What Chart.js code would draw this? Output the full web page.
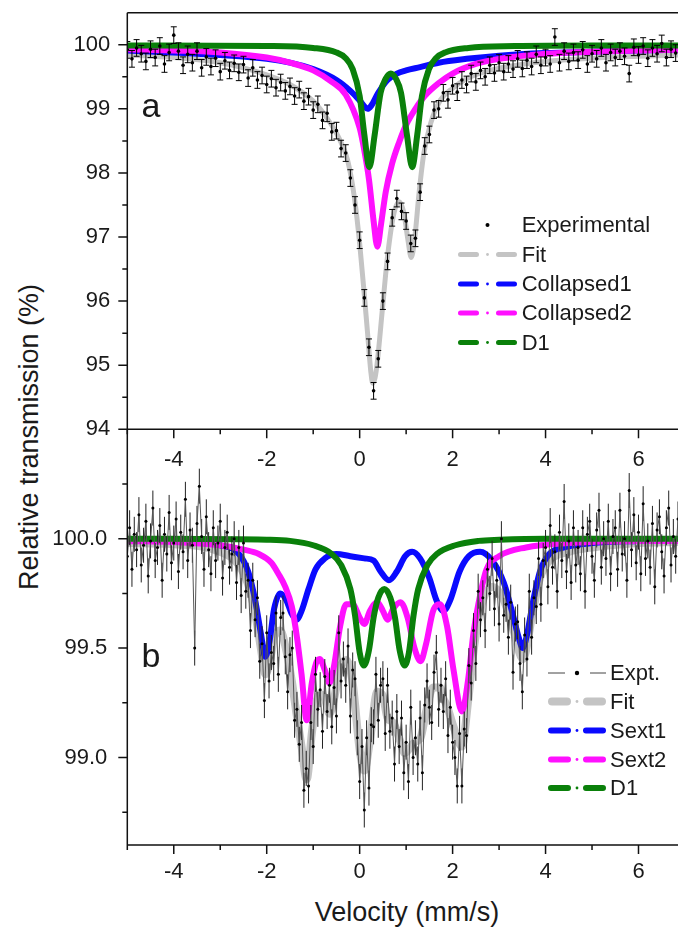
<!DOCTYPE html>
<html>
<head>
<meta charset="utf-8">
<script src="https://cdn.jsdelivr.net/npm/chart.js@4.4.1/dist/chart.umd.min.js"></script>
<style>
html, body { margin: 0; padding: 0; background: #fff; overflow: hidden; }
#wrap { position: relative; width: 682px; height: 930px; font-family: "Liberation Sans", Arial, sans-serif; color: #1a1a1a; }
#cvA { position: absolute; left: 0; top: 0; z-index: 2; }
#cvB { position: absolute; left: 0; top: 420px; z-index: 1; }
.ytitle { position: absolute; left: 29px; top: 437px; transform: translate(-50%, -50%) rotate(-90deg); font-size: 27px; white-space: nowrap; }
.xtitle { position: absolute; left: 407px; top: 912px; transform: translate(-50%, -50%); font-size: 27px; white-space: nowrap; }
</style>
</head>
<body>
<div id="wrap">
  <canvas id="cvA" width="682" height="480"></canvas>
  <canvas id="cvB" width="682" height="510"></canvas>
  <div class="ytitle">Relative transmission (%)</div>
  <div class="xtitle">Velocity (mm/s)</div>
</div>
<script>
// ---- Spectrum a ----
// measured channels: start velocity and step (mm/s)
const velStartA = -5, velStepA = 0.1;
const exptA = [
  99.92, 99.78, 99.95, 99.86, 99.74, 99.93, 99.8, 99.98, 99.7, 99.88,
  100.15, 99.9, 99.68, 99.85, 99.72, 99.9, 99.64, 99.81, 99.66, 99.79,
  99.58, 99.75, 99.6, 99.71, 99.57, 99.69, 99.48, 99.64, 99.45, 99.52,
  99.38, 99.47, 99.33, 99.41, 99.28, 99.35, 99.2, 99.3, 99.12, 99.19,
  98.98, 99.07, 98.82, 98.93, 98.64, 98.66, 98.38, 98.31, 97.92, 97.5,
  96.95, 96.05, 95.28, 94.6, 95.1, 96.0, 96.62, 97.3, 97.6, 97.4,
  97.25, 96.9, 96.98, 97.7, 98.42, 98.6, 98.98, 99.0, 99.25, 99.14,
  99.36, 99.26, 99.45, 99.38, 99.55, 99.42, 99.6, 99.5, 99.68, 99.56,
  99.72, 99.58, 99.7, 99.62, 99.78, 99.63, 99.76, 99.66, 99.85, 99.68,
  99.8, 99.7, 100.12, 99.72, 99.9, 99.74, 99.88, 99.76, 99.92, 99.7,
  99.86, 99.78, 99.95, 99.72, 99.88, 99.8, 99.9, 99.82, 99.55, 99.96,
  99.84, 99.98, 99.79, 99.95, 99.86, 100.02, 99.8, 99.93, 99.87
];
const errA = 0.13;

const fitVelA = [-5, -4, -3, -2.5, -2, -1.5, -1, -0.7, -0.45, -0.26, -0.11, 0, 0.1, 0.17, 0.24, 0.28, 0.33, 0.38, 0.49, 0.6,
  0.74, 0.85, 0.95, 1.04, 1.11, 1.18, 1.28, 1.38, 1.53, 1.74, 2, 2.3, 2.7, 3.2, 4, 5, 6, 6.85];
const fitA = [99.84, 99.8, 99.72, 99.64, 99.53, 99.38, 99.12, 98.85, 98.55, 98.2, 97.6, 96.9, 96.1, 95.5, 94.9, 94.72, 94.8, 95.05, 95.88, 96.7,
  97.38, 97.55, 97.38, 96.95, 96.68, 96.95, 97.7, 98.3, 98.78, 99.14, 99.32, 99.47, 99.58, 99.66, 99.74, 99.79, 99.82, 99.84];

const c1VelA = [-5, -4, -3, -2, -1.5, -1, -0.5, -0.2, 0, 0.1, 0.17, 0.25, 0.4, 0.6, 0.8, 1, 1.3, 1.7, 2.3, 3, 4, 5, 6, 6.85];
const collapsed1A = [99.91, 99.88, 99.84, 99.78, 99.72, 99.62, 99.45, 99.28, 99.13, 99.04, 99.0, 99.05, 99.25, 99.45, 99.55, 99.6, 99.65, 99.72, 99.78, 99.83, 99.87, 99.89, 99.91, 99.92];

const c2VelA = [-5, -4, -3, -2, -1.5, -1, -0.6, -0.3, 0, 0.1, 0.2, 0.3, 0.38, 0.46, 0.56, 0.7, 0.85, 1, 1.2, 1.4, 1.7, 2, 2.5, 3, 4, 5, 6, 6.85];
const collapsed2A = [99.93, 99.91, 99.88, 99.8, 99.72, 99.6, 99.42, 99.22, 98.7, 98.35, 97.9, 97.25, 96.85, 97.2, 97.7, 98.15, 98.48, 98.75, 99.0, 99.2, 99.4, 99.55, 99.7, 99.78, 99.86, 99.89, 99.91, 99.92];

const d1VelA = [-5, -2, -1, -0.5, -0.3, -0.15, 0, 0.1, 0.21, 0.32, 0.45, 0.56, 0.67, 0.78, 0.89, 1.02, 1.13, 1.24, 1.34, 1.49, 1.64, 1.84, 2.34, 3.34, 5, 6.85];
const d1A = [99.99, 99.98, 99.95, 99.88, 99.79, 99.62, 99.2, 98.6, 98.09, 98.58, 99.25, 99.47, 99.55, 99.47, 99.25, 98.58, 98.09, 98.6, 99.2, 99.62, 99.79, 99.88, 99.95, 99.98, 99.99, 99.99];

// ---- Spectrum b ----
const velStartB = -5, velStepB = 0.05;
const exptB = [
  99.92, 100.05, 99.86, 100.02, 99.95, 100.11, 99.88, 99.97, 100.08, 99.83,
  99.99, 100.14, 99.9, 99.96, 100.06, 99.81, 100.02, 99.93, 100.12, 99.89,
  99.98, 100.09, 99.85, 100.03, 99.94, 100.18, 99.9, 100.04, 99.97, 99.5,
  100.07, 100.24, 100.01, 99.86, 100.1, 99.95, 99.84, 100.05, 99.9, 99.98,
  100.08, 99.82, 99.96, 100.03, 99.87, 99.93, 100.0, 99.8, 99.96, 99.74,
  99.98, 99.76, 99.81, 99.58, 99.81, 99.63, 99.73, 99.44, 99.52, 99.26,
  99.57, 99.35, 99.48, 99.43, 99.66, 99.38, 99.64, 99.66, 99.46, 99.3,
  99.47, 99.5, 99.17, 99.22, 99.06, 99.16, 98.85, 98.95, 98.87, 99.16,
  99.05, 99.38, 99.22, 99.31, 99.12, 99.37, 99.21, 99.33, 99.14, 99.32,
  99.19, 99.57, 99.35, 99.45, 99.33, 99.51, 99.19, 99.4, 99.36, 99.09,
  98.89, 99.05, 98.76, 99.09, 98.86, 99.15, 99.14, 99.38, 99.17, 99.33,
  99.36, 99.11, 99.33, 99.12, 99.18, 98.97, 99.21, 99.05, 99.18, 98.93,
  99.07, 98.89, 99.23, 99.0, 99.09, 98.97, 99.18, 98.93, 99.24, 99.35,
  99.23, 99.16, 99.39, 99.48, 99.22, 99.33, 99.21, 99.36, 99.1, 99.23,
  99.07, 99.0, 98.87, 99.11, 98.87, 99.13, 99.1, 99.42, 99.34, 99.58,
  99.43, 99.76, 99.63, 99.73, 99.58, 99.86, 99.75, 99.91, 99.68, 99.81,
  99.61, 100.0, 99.65, 99.7, 99.55, 99.71, 99.39, 99.61, 99.62, 99.43,
  99.3, 99.56, 99.45, 99.76, 99.55, 99.73, 99.69, 99.91, 99.7, 99.9,
  99.96, 99.78, 100.06, 99.87, 99.94, 99.76, 100.03, 99.9, 100.17, 99.85,
  99.99, 99.8, 100.05, 99.88, 99.96, 99.84, 100.05, 99.76, 100.02, 100.08,
  99.92, 99.81, 100.04, 100.13, 99.87, 100.0, 99.91, 100.08, 99.84, 100.01,
  100.05, 99.86, 100.13, 99.93, 100.0, 99.81, 100.22, 99.95, 100.11, 99.89,
  100.03, 99.84, 100.16, 99.91, 99.99, 99.87, 100.07, 99.78, 100.04, 100.1,
  99.94, 99.83, 100.05, 100.14, 99.88, 100.01, 99.92, 100.09
];
const errB = 0.08;

const fitVelB = [-5, -4, -3, -2.6, -2.4, -2.25, -2.12, -2.03, -1.94, -1.84, -1.71, -1.58, -1.46, -1.36, -1.25, -1.14, -1.03, -0.94, -0.86, -0.75,
  -0.65, -0.55, -0.42, -0.29, -0.15, 0, 0.1, 0.22, 0.38, 0.5, 0.6, 0.72, 0.88, 0.97, 1.03, 1.18, 1.31, 1.43, 1.58, 1.73,
  1.8, 1.88, 2.02, 2.2, 2.33, 2.45, 2.6, 2.85, 3.1, 3.3, 3.51, 3.72, 3.88, 4.08, 4.5, 5, 6, 6.85];
const fitB = [99.98, 99.975, 99.94, 99.88, 99.79, 99.66, 99.49, 99.38, 99.43, 99.55, 99.58, 99.49, 99.35, 99.2, 99.05, 98.9, 99.11, 99.245, 99.29, 99.27,
  99.2, 99.27, 99.41, 99.445, 99.34, 99.035, 98.94, 99.075, 99.3, 99.28, 99.18, 99.16, 99.07, 99.02, 99.03, 99.07, 99.09, 99.21, 99.32, 99.32,
  99.27, 99.235, 99.14, 99.05, 99.25, 99.485, 99.68, 99.78, 99.72, 99.59, 99.45, 99.66, 99.82, 99.9, 99.94, 99.96, 99.98, 99.985];

const s1VelB = [-5, -4, -3, -2.6, -2.4, -2.25, -2.12, -2.03, -1.94, -1.84, -1.71, -1.58, -1.47, -1.36, -1.25, -1.1, -0.95, -0.75, -0.5, -0.2,
  0.1, 0.3, 0.45, 0.63, 0.8, 0.98, 1.13, 1.3, 1.5, 1.65, 1.8, 1.95, 2.15, 2.35, 2.59, 2.85, 3.1, 3.3, 3.42, 3.51,
  3.6, 3.72, 3.88, 4.08, 4.4, 5, 6, 6.85];
const sext1B = [99.995, 99.99, 99.97, 99.93, 99.85, 99.72, 99.56, 99.46, 99.53, 99.68, 99.75, 99.72, 99.66, 99.63, 99.67, 99.77, 99.86, 99.91, 99.93, 99.92,
  99.91, 99.9, 99.85, 99.81, 99.85, 99.92, 99.94, 99.91, 99.82, 99.72, 99.67, 99.72, 99.85, 99.92, 99.94, 99.9, 99.8, 99.65, 99.55, 99.5,
  99.56, 99.7, 99.85, 99.93, 99.96, 99.98, 99.99, 99.995];

const s2VelB = [-5, -4, -3, -2.5, -2.17, -1.9, -1.75, -1.6, -1.46, -1.35, -1.25, -1.14, -1.03, -0.94, -0.86, -0.75, -0.65, -0.55, -0.42, -0.29,
  -0.15, 0, 0.1, 0.22, 0.38, 0.5, 0.6, 0.72, 0.88, 1.03, 1.18, 1.31, 1.43, 1.58, 1.73, 1.88, 2.02, 2.2, 2.33, 2.45,
  2.6, 2.73, 3, 3.58, 4.5, 6, 6.85];
const sext2B = [99.99, 99.985, 99.97, 99.95, 99.93, 99.89, 99.84, 99.78, 99.69, 99.55, 99.38, 99.17, 99.34, 99.43, 99.45, 99.4, 99.34, 99.42, 99.6, 99.7,
  99.7, 99.64, 99.61, 99.67, 99.71, 99.67, 99.63, 99.68, 99.71, 99.64, 99.5, 99.44, 99.52, 99.67, 99.7, 99.6, 99.4, 99.21, 99.35, 99.57,
  99.75, 99.86, 99.92, 99.96, 99.98, 99.99, 99.99];

const d1VelB = [-5, -2, -1.5, -1, -0.6, -0.4, -0.2, -0.1, 0, 0.09, 0.2, 0.3, 0.4, 0.53, 0.66, 0.76, 0.86, 0.97, 1.06, 1.16,
  1.26, 1.46, 1.66, 2.06, 2.56, 3, 4, 6.85];
const d1B = [100, 99.995, 99.99, 99.97, 99.93, 99.88, 99.77, 99.65, 99.48, 99.42, 99.49, 99.64, 99.73, 99.77, 99.73, 99.64, 99.49, 99.42, 99.48, 99.65,
  99.77, 99.88, 99.93, 99.97, 99.99, 99.995, 100, 100];

const legendA = ['Experimental', 'Fit', 'Collapsed1', 'Collapsed2', 'D1'];
const legendB = ['Expt.', 'Fit', 'Sext1', 'Sext2', 'D1'];

// ---- helpers ----
const FONT = '"Liberation Sans", Arial, sans-serif';
const TEXT = '#1a1a1a';
const BLUE = '#0a0aff', PINK = '#ff10ff', GREEN = '#0a800a', GREY = '#c4c4c4';

function pts(xs, ys) { return xs.map((x, i) => ({ x: x, y: ys[i] })); }
function channels(start, step, ys) {
  return ys.map((y, i) => ({ x: Math.round((start + i * step) * 100) / 100, y: y }));
}
function curve(label, data, color, width, order) {
  return { label, data, showLine: true, borderColor: color, borderWidth: width, pointRadius: 0,
    cubicInterpolationMode: 'monotone', order, clip: 0 };
}

// error bars drawn just before the dataset's points
const errorBars = {
  id: 'errorBars',
  beforeDatasetDraw(chart, args) {
    const ds = chart.data.datasets[args.index];
    if (!ds.errorBar) return;
    const { ctx, chartArea: a, scales: { x, y } } = chart;
    const eb = ds.errorBar;
    ctx.save();
    ctx.beginPath();
    ctx.rect(a.left, a.top, a.right - a.left, a.bottom - a.top);
    ctx.clip();
    ctx.strokeStyle = eb.color;
    ctx.lineWidth = eb.width;
    ctx.beginPath();
    ds.data.forEach(p => {
      const px = x.getPixelForValue(p.x);
      const y1 = y.getPixelForValue(p.y - eb.size);
      const y2 = y.getPixelForValue(p.y + eb.size);
      ctx.moveTo(px, y1); ctx.lineTo(px, y2);
      if (eb.cap) {
        ctx.moveTo(px - eb.cap, y1); ctx.lineTo(px + eb.cap, y1);
        ctx.moveTo(px - eb.cap, y2); ctx.lineTo(px + eb.cap, y2);
      }
    });
    ctx.stroke();
    ctx.restore();
  }
};

// axes frame, tick marks, panel letter and legend
const frame = {
  id: 'frame',
  afterDraw(chart, args, o) {
    const { ctx, chartArea: a, scales: { x, y } } = chart;
    ctx.save();
    ctx.strokeStyle = '#111';
    ctx.lineWidth = 1.5;
    ctx.beginPath();
    ctx.moveTo(a.left, a.top); ctx.lineTo(a.left, a.bottom); ctx.lineTo(a.right, a.bottom);
    if (o.topBorder) { ctx.moveTo(a.left, a.top); ctx.lineTo(a.right, a.top); }
    for (let v = -5; v <= 7; v++) {
      const px = x.getPixelForValue(v);
      if (px > a.right + 1) continue;
      const len = v % 2 === 0 ? 9 : 5;
      ctx.moveTo(px, a.bottom); ctx.lineTo(px, a.bottom + len);
    }
    o.yMajor.forEach(v => { const py = y.getPixelForValue(v); ctx.moveTo(a.left, py); ctx.lineTo(a.left - 9, py); });
    o.yMinor.forEach(v => { const py = y.getPixelForValue(v); ctx.moveTo(a.left, py); ctx.lineTo(a.left - 5, py); });
    ctx.stroke();

    ctx.fillStyle = TEXT;
    ctx.font = '34px ' + FONT;
    ctx.textAlign = 'center';
    ctx.textBaseline = 'middle';
    ctx.fillText(o.letter, o.letterX, o.letterY);

    ctx.font = '22px ' + FONT;
    ctx.textAlign = 'left';
    o.legend.forEach((e, i) => {
      const ly = o.legY[i];
      const x0 = o.legX0, x1 = o.legX1, mid = (x0 + x1) / 2;
      ctx.lineCap = 'round';
      if (e.kind === 'dot') {
        ctx.fillStyle = '#000';
        ctx.beginPath(); ctx.arc(mid, ly, 2, 0, Math.PI * 2); ctx.fill();
      } else if (e.kind === 'thin') {
        ctx.strokeStyle = '#444'; ctx.lineWidth = 1; ctx.lineCap = 'butt';
        ctx.beginPath();
        ctx.moveTo(x0, ly); ctx.lineTo(x0 + 17, ly);
        ctx.moveTo(x1 - 16, ly); ctx.lineTo(x1, ly);
        ctx.stroke();
        ctx.fillStyle = '#000';
        ctx.beginPath(); ctx.arc(mid, ly, 2.2, 0, Math.PI * 2); ctx.fill();
      } else {
        const half = e.width / 2;
        ctx.strokeStyle = e.color; ctx.lineWidth = e.width;
        ctx.beginPath();
        ctx.moveTo(x0 + half, ly); ctx.lineTo(x0 + o.dash - half, ly);
        ctx.moveTo(x1 - o.dash + half, ly); ctx.lineTo(x1 - half, ly);
        ctx.stroke();
        ctx.fillStyle = e.color;
        ctx.beginPath(); ctx.arc(mid, ly, 1.4, 0, Math.PI * 2); ctx.fill();
      }
      ctx.fillStyle = TEXT;
      ctx.fillText(e.text, o.textX, ly + 1);
    });
    ctx.restore();
  }
};

function axisX(height, padding) {
  return {
    type: 'linear', min: -5, max: 6.85,
    afterFit(s) { s.height = height; s.paddingLeft = 0; s.paddingRight = 0; },
    grid: { display: false, drawTicks: false },
    border: { display: false },
    ticks: {
      stepSize: 1, includeBounds: false, autoSkip: false, maxRotation: 0, padding: padding,
      color: TEXT, font: { family: FONT, size: 22 },
      callback: v => (Math.abs(v % 2) < 1e-6 ? String(Math.round(v)) : '')
    }
  };
}

function axisY(min, max, step, padding, callback) {
  return {
    min: min, max: max,
    afterFit(s) { s.width = 127.3; s.paddingTop = 0; s.paddingBottom = 0; },
    grid: { display: false, drawTicks: false },
    border: { display: false },
    ticks: { stepSize: step, includeBounds: false, padding: padding, color: TEXT,
      font: { family: FONT, size: 22 }, callback: callback }
  };
}

function baseOptions(padTop, scales, frameOpts) {
  return {
    responsive: false, animation: false, events: [],
    layout: { padding: { top: padTop, left: 0, right: 0, bottom: 0 } },
    plugins: { legend: { display: false }, tooltip: { enabled: false }, frame: frameOpts },
    scales: scales
  };
}

// ---- panel a ----
new Chart(document.getElementById('cvA'), {
  type: 'scatter',
  data: {
    datasets: [
      { label: legendA[0], data: channels(velStartA, velStepA, exptA), pointRadius: 1.8, pointBorderWidth: 0,
        pointBackgroundColor: '#000', showLine: false, order: 0, clip: 0,
        errorBar: { size: errA, cap: 3, color: '#000', width: 1 } },
      curve(legendA[4], pts(d1VelA, d1A), GREEN, 6, 1),
      curve(legendA[3], pts(c2VelA, collapsed2A), PINK, 6, 2),
      curve(legendA[2], pts(c1VelA, collapsed1A), BLUE, 6, 3),
      curve(legendA[1], pts(fitVelA, fitA), GREY, 5, 4)
    ]
  },
  options: baseOptions(12.7, {
    x: axisX(50.7, 17),
    y: axisY(94, 100.5, 1, 17, v => (v <= 100.01 ? String(Math.round(v)) : ''))
  }, {
    topBorder: true,
    yMajor: [94, 95, 96, 97, 98, 99, 100],
    yMinor: [94.5, 95.5, 96.5, 97.5, 98.5, 99.5],
    letter: 'a', letterX: 151, letterY: 108,
    legX0: 458, legX1: 517, dash: 21, textX: 521.7,
    legY: [225, 254.5, 284, 313, 342.5],
    legend: [
      { text: legendA[0], kind: 'dot' },
      { text: legendA[1], color: GREY, width: 5 },
      { text: legendA[2], color: BLUE, width: 5 },
      { text: legendA[3], color: PINK, width: 5 },
      { text: legendA[4], color: GREEN, width: 5 }
    ]
  }),
  plugins: [errorBars, frame]
});

// ---- panel b ----
const offB = 420;
new Chart(document.getElementById('cvB'), {
  type: 'scatter',
  data: {
    datasets: [
      { label: legendB[0], data: channels(velStartB, velStepB, exptB), showLine: true, borderColor: '#555', borderWidth: 1,
        pointRadius: 1.5, pointBorderWidth: 0, pointBackgroundColor: '#000', order: 0, clip: 0,
        errorBar: { size: errB, cap: 0, color: '#222', width: 1 } },
      curve(legendB[4], pts(d1VelB, d1B), GREEN, 6, 1),
      curve(legendB[3], pts(s2VelB, sext2B), PINK, 6, 2),
      curve(legendB[2], pts(s1VelB, sext1B), BLUE, 6, 3),
      curve(legendB[1], pts(fitVelB, fitB), GREY, 8, 4)
    ]
  },
  options: baseOptions(429.3 - offB, {
    x: axisX(510 - (845 - offB), 14),
    y: axisY(98.6, 100.5, 0.5, 20, v => (v > 98.9 && v < 100.1 ? v.toFixed(1) : ''))
  }, {
    topBorder: false,
    yMajor: [99, 99.5, 100],
    yMinor: [98.75, 99.25, 99.75, 100.25],
    letter: 'b', letterX: 151, letterY: 658 - offB,
    legX0: 548, legX1: 606, dash: 23, textX: 610,
    legY: [673 - offB, 701.5 - offB, 730.5 - offB, 759.5 - offB, 788 - offB],
    legend: [
      { text: legendB[0], kind: 'thin' },
      { text: legendB[1], color: GREY, width: 8 },
      { text: legendB[2], color: BLUE, width: 6 },
      { text: legendB[3], color: PINK, width: 6 },
      { text: legendB[4], color: GREEN, width: 6 }
    ]
  }),
  plugins: [errorBars, frame]
});
</script>
</body>
</html>
